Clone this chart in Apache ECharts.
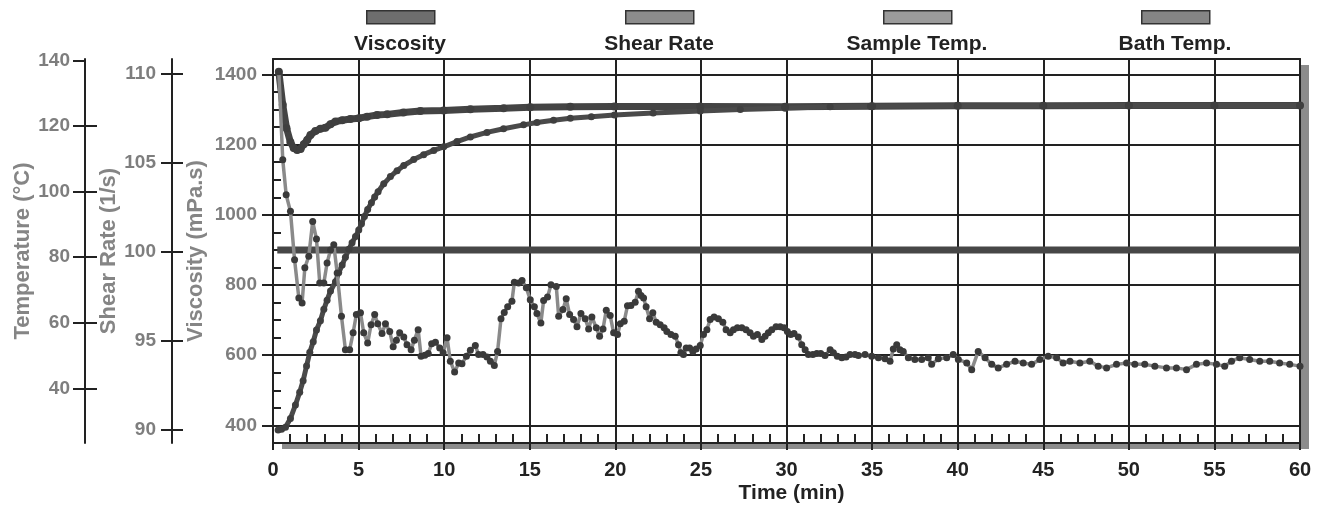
<!DOCTYPE html>
<html><head><meta charset="utf-8">
<script src="https://cdn.jsdelivr.net/npm/echarts@6/dist/echarts.min.js"></script>
<style>html,body{margin:0;padding:0;background:#fff}#c{width:1318px;height:506px}</style>
</head><body><div id="c"></div><script>
// ---------------- DATA ----------------
const seriesNames = ['Viscosity', 'Shear Rate', 'Sample Temp.', 'Bath Temp.'];
const axisNames = { time: 'Time (min)', visc: 'Viscosity (mPa.s)', shear: 'Shear Rate (1/s)', temp: 'Temperature (°C)' };

const viscTime = [0.34,0.57,0.77,1.02,1.26,1.51,1.70,1.86,2.09,2.32,2.54,2.73,2.97,3.16,3.36,3.55,3.75,4.00,4.23,4.48,4.68,4.87,5.11,5.30,5.53,5.73,5.94,6.12,6.37,6.57,6.82,7.02,7.21,7.40,7.64,7.83,8.07,8.26,8.48,8.65,8.87,9.07,9.27,9.49,9.74,9.94,10.17,10.36,10.61,10.85,11.04,11.30,11.53,11.82,12.01,12.27,12.50,12.70,12.93,13.12,13.32,13.51,13.71,13.96,14.10,14.35,14.55,14.80,15.03,15.27,15.42,15.65,15.81,16.04,16.24,16.55,16.69,16.94,17.13,17.33,17.56,17.76,17.99,18.24,18.44,18.63,18.89,19.08,19.28,19.47,19.70,19.90,20.13,20.29,20.52,20.71,20.91,21.16,21.35,21.50,21.65,21.80,22.00,22.19,22.39,22.62,22.85,23.01,23.25,23.50,23.69,23.83,23.98,24.14,24.34,24.53,24.72,24.96,25.15,25.35,25.54,25.77,26.02,26.28,26.47,26.71,26.90,27.13,27.39,27.64,27.87,28.07,28.30,28.56,28.75,28.94,29.14,29.39,29.63,29.86,30.05,30.25,30.44,30.69,30.89,31.09,31.28,31.54,31.77,32.00,32.25,32.55,32.74,32.97,33.23,33.48,33.71,34.00,34.20,34.59,34.98,35.37,35.76,36.05,36.24,36.44,36.63,36.82,37.12,37.50,37.90,38.28,38.48,38.87,39.36,39.74,40.04,40.53,40.82,41.20,41.60,41.99,42.37,42.86,43.35,43.83,44.32,44.80,45.29,45.78,46.16,46.56,47.14,47.72,48.21,48.70,49.28,49.87,50.35,50.93,51.52,52.20,52.78,53.37,53.95,54.54,55.12,55.60,56.00,56.48,57.06,57.65,58.23,58.81,59.40,60.00];
const viscValues = [1408,1157,1057,1010,872,763,749,849,882,981,931,806,806,863,900,915,834,711,616,616,664,716,721,664,635,687,716,690,662,690,668,624,643,664,652,630,616,643,673,597,600,605,633,637,621,607,650,583,552,578,576,597,614,628,602,602,595,583,571,611,704,722,738,754,808,806,813,792,758,738,719,692,756,766,801,796,711,730,761,716,702,681,719,704,675,709,678,654,675,728,713,664,659,690,697,741,742,751,782,770,763,738,704,721,694,687,678,668,659,654,630,607,602,621,621,611,618,628,659,673,702,709,704,694,673,664,673,678,678,673,664,654,659,645,654,664,673,681,681,678,668,659,662,652,630,616,602,602,605,605,599,616,607,597,593,595,602,602,599,602,597,593,590,583,618,630,616,611,593,588,588,593,574,590,593,602,588,578,559,611,593,574,564,574,583,578,574,588,597,593,578,583,578,583,569,564,574,578,574,574,569,564,564,559,574,578,574,569,583,593,588,583,583,578,574,569];

const shearTime = [0.25, 10, 20, 30, 40, 50, 60];
const shearValues = [100.1, 100.1, 100.1, 100.1, 100.1, 100.1, 100.1];

const sampleTime = [0.30,0.50,0.73,1.02,1.31,1.56,1.76,1.96,2.15,2.35,2.54,2.77,2.97,3.16,3.36,3.65,3.84,4.04,4.23,4.43,4.62,4.82,5.01,5.17,5.34,5.53,5.75,5.94,6.14,6.47,6.86,7.25,7.64,8.22,8.80,9.39,9.97,10.75,11.53,12.50,13.47,14.64,15.42,16.39,17.37,18.60,19.95,22.21,24.96,27.30,29.92,32.55,34.90,40,45,50,55,60];
const sampleValues = [27.3,27.5,28.1,30.8,34.9,38.8,42.3,46.8,51.0,54.2,57.8,60.6,64.1,66.9,69.7,72.5,75.3,77.6,80.0,82.4,84.4,86.3,88.3,90.2,92.4,94.6,96.6,98.4,100.0,102.4,104.6,106.4,108.0,109.8,111.3,112.6,113.7,115.3,116.7,118.1,119.2,120.4,121.1,121.8,122.4,122.9,123.4,124.0,124.6,125.1,125.5,125.9,126.1,126.2,126.2,126.3,126.3,126.3];

const bathTime = [0.34,0.57,0.79,1.02,1.21,1.41,1.61,1.80,2.00,2.19,2.48,2.77,3.06,3.36,3.65,4.04,4.52,5.01,5.50,6.08,6.67,7.62,8.61,9.97,11.53,13.47,15.03,17.37,19.94,24.96,29.92,35,40,45,50,55,60];
const bathValues = [136.6,126.5,119.4,115.1,113.3,112.7,113.0,114.5,115.8,117.3,118.5,119.2,119.5,120.6,121.4,121.8,122.2,122.4,122.9,123.4,123.6,124.2,124.6,124.8,125.2,125.5,125.8,125.9,126.0,126.0,125.9,126.1,126.2,126.2,126.3,126.3,126.3];

const viscTicks = [400, 600, 800, 1000, 1200, 1400];
const viscMinorTicks = [450,500,550,650,700,750,850,900,950,1050,1100,1150,1250,1300,1350];
const shearTicks = [90, 95, 100, 105, 110];
const tempTicks = [40, 60, 80, 100, 120, 140];
const tempInnerTicks = [40, 60, 80, 100, 120];

// ---------------- CHART ----------------
const pair = (ts, vs) => ts.map((t, i) => [t, vs[i]]);
const FONT = '"Liberation Sans", Arial, sans-serif';
const DARK = '#222';
const GRAYTXT = '#7e7e7e';
const lbl = (color, size) => ({ color, fontFamily: FONT, fontWeight: 'bold', fontSize: size || 19 });
const plain = v => String(v);

function yAx(o) {
  return Object.assign({
    type: 'value', position: 'left', gridIndex: 0,
    axisLine: { show: true, onZero: false, lineStyle: { color: DARK, width: 2 } },
    splitLine: { show: false },
    nameLocation: 'middle', nameRotate: 90, nameMoveOverlap: false,
    nameTextStyle: lbl('#858585', 22)
  }, o);
}
function innerTicks(o, values, len) {
  return Object.assign({
    type: 'value', position: 'left', gridIndex: 0,
    axisLine: { show: false, onZero: false },
    axisTick: { show: true, inside: true, length: len, customValues: values, lineStyle: { color: DARK, width: 2 } },
    axisLabel: { show: false }, splitLine: { show: false }
  }, o);
}

const legendCenters = [400, 659, 917, 1175];
const legendFills = ['#6e6e6e', '#8c8c8c', '#9b9b9b', '#858585'];
const graphics = [];
seriesNames.forEach((n, i) => {
  graphics.push({ type: 'rect', left: legendCenters[i] - 34, top: 10,
    shape: { width: 68, height: 13 }, style: { fill: legendFills[i], stroke: '#333', lineWidth: 1.5 } });
  graphics.push({ type: 'text', x: legendCenters[i], y: 44,
    style: { text: n, fill: DARK, font: 'bold 21px ' + FONT, textAlign: 'center', textVerticalAlign: 'middle' } });
});

const chart = echarts.init(document.getElementById('c'), null, { renderer: 'canvas' });
chart.setOption({
  animation: false,
  backgroundColor: '#fff',
  graphic: graphics,
  grid: { left: 273, right: 18, top: 59, bottom: 63, containLabel: false, outerBoundsMode: 'none',
    show: true, backgroundColor: '#fff', borderWidth: 0,
    shadowColor: 'rgba(140,140,140,1)', shadowBlur: 0, shadowOffsetX: 9, shadowOffsetY: 6 },
  xAxis: [
    { type: 'value', min: 0, max: 60, interval: 5, position: 'bottom',
      name: axisNames.time, nameLocation: 'middle', nameGap: 40, nameMoveOverlap: false,
      nameTextStyle: Object.assign({ padding: [0, 0, 0, 10] }, lbl(DARK, 21)),
      axisLine: { show: true, onZero: false, lineStyle: { color: DARK, width: 2 } },
      axisTick: { show: true, length: 7, lineStyle: { color: DARK, width: 2 } },
      axisLabel: Object.assign({ margin: 17, formatter: plain }, lbl(DARK, 20)),
      splitLine: { show: true, lineStyle: { color: DARK, width: 2 } } },
    { type: 'value', min: 0, max: 60, interval: 5, position: 'bottom',
      axisLine: { show: false, onZero: false },
      axisTick: { show: true, inside: true, length: 9, lineStyle: { color: DARK, width: 2 } },
      minorTick: { show: true, splitNumber: 5, length: 9, lineStyle: { color: DARK, width: 2 } },
      axisLabel: { show: false }, splitLine: { show: false } },
    { type: 'value', min: 0, max: 60, position: 'top',
      axisLine: { show: true, onZero: false, lineStyle: { color: DARK, width: 2 } },
      axisTick: { show: false }, axisLabel: { show: false }, splitLine: { show: false } }
  ],
  yAxis: [
    yAx({ min: 350, max: 1444, offset: 0, name: axisNames.visc, nameGap: 66,
      axisTick: { show: true, length: 11, customValues: viscTicks, lineStyle: { color: DARK, width: 2 } },
      axisLabel: Object.assign({ margin: 16, customValues: viscTicks, formatter: plain }, lbl(GRAYTXT)),
      splitLine: { show: true, lineStyle: { color: DARK, width: 2 } } }),
    innerTicks({ min: 350, max: 1444, offset: 0 }, viscMinorTicks, 8),
    yAx({ min: 89.28, max: 110.8, offset: 101, name: axisNames.shear, nameGap: 52,
      axisTick: { show: true, length: 11, customValues: shearTicks, lineStyle: { color: DARK, width: 2 } },
      axisLabel: Object.assign({ margin: 16, customValues: shearTicks, formatter: plain }, lbl(GRAYTXT)) }),
    innerTicks({ min: 89.28, max: 110.8, offset: 101 }, shearTicks, 11),
    yAx({ min: 23.3, max: 140.5, offset: 188, name: axisNames.temp, nameGap: 51,
      axisTick: { show: true, length: 12, customValues: tempTicks, lineStyle: { color: DARK, width: 2 } },
      axisLabel: Object.assign({ margin: 15, customValues: tempTicks, formatter: plain }, lbl(GRAYTXT)) }),
    innerTicks({ min: 23.3, max: 140.5, offset: 188 }, tempInnerTicks, 12),
    { type: 'value', position: 'right', gridIndex: 0, min: 0, max: 1,
      axisLine: { show: true, onZero: false, lineStyle: { color: DARK, width: 2 } },
      axisTick: { show: false }, axisLabel: { show: false }, splitLine: { show: false } }
  ],
  series: [
    { name: seriesNames[1], type: 'line', xAxisIndex: 0, yAxisIndex: 2, data: pair(shearTime, shearValues),
      symbol: 'none', lineStyle: { color: '#474747', width: 7 }, z: 3 },
    { name: seriesNames[3], type: 'line', xAxisIndex: 0, yAxisIndex: 4, data: pair(bathTime, bathValues),
      symbol: 'circle', symbolSize: 8, itemStyle: { color: '#3f3f3f' },
      lineStyle: { color: '#444', width: 7 }, z: 4 },
    { name: seriesNames[2], type: 'line', xAxisIndex: 0, yAxisIndex: 4, data: pair(sampleTime, sampleValues),
      symbol: 'circle', symbolSize: 7, itemStyle: { color: '#3f3f3f' },
      lineStyle: { color: '#4a4a4a', width: 5 }, z: 4 },
    { name: seriesNames[0], type: 'line', xAxisIndex: 0, yAxisIndex: 0, data: pair(viscTime, viscValues),
      symbol: 'circle', symbolSize: 7, itemStyle: { color: '#3a3a3a' },
      lineStyle: { color: '#8a8a8a', width: 3.5 }, z: 5 }
  ]
});
</script></body></html>
